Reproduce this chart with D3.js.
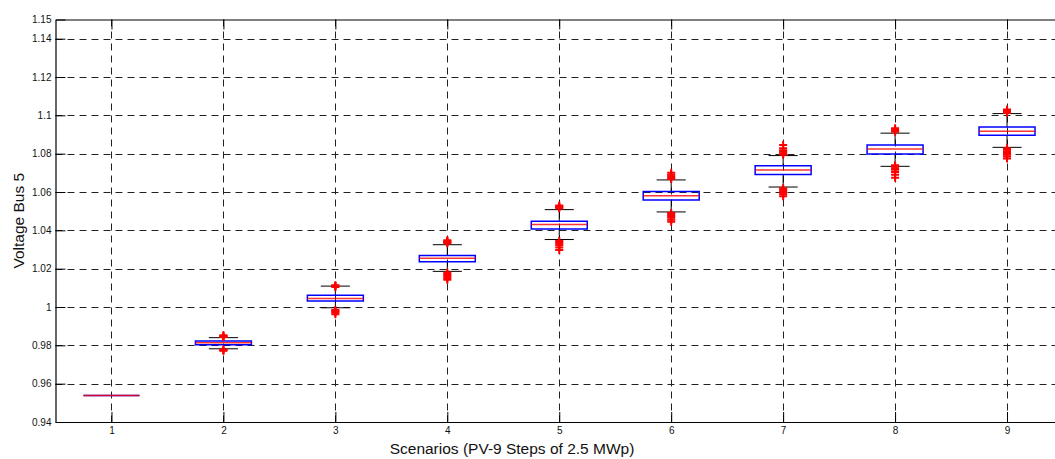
<!DOCTYPE html>
<html>
<head>
<meta charset="utf-8">
<script src="https://cdn.jsdelivr.net/npm/d3@7"></script>
<style>
  html, body { margin: 0; padding: 0; background: #fff; overflow: hidden; }
  svg { display: block; font-family: "Liberation Sans", Arial, sans-serif; }
</style>
</head>
<body>
<svg id="chart" width="1055" height="459"></svg>
<script>
// ---- data ----
const scenarios   = [1, 2, 3, 4, 5, 6, 7, 8, 9];
const q1          = [0.9538, 0.9803, 1.0031, 1.0236, 1.0407, 1.0558, 1.0691, 1.0798, 1.0896];
const medians     = [0.9538, 0.9813, 1.0045, 1.0254, 1.0430, 1.0581, 1.0715, 1.0824, 1.0917];
const q3          = [0.9538, 0.9822, 1.0061, 1.0269, 1.0448, 1.0602, 1.0737, 1.0845, 1.0939];
const whiskerLow  = [0.9538, 0.9782, 0.9996, 1.0186, 1.0352, 1.0496, 1.0626, 1.0734, 1.0833];
const whiskerHigh = [0.9538, 0.9840, 1.0109, 1.0325, 1.0508, 1.0663, 1.0790, 1.0907, 1.1009];
const outliersHigh = [
  [],
  [0.9843, 0.9846, 0.9849, 0.9852],
  [1.0105, 1.0108, 1.0111, 1.0114],
  [1.0332, 1.0336, 1.0340, 1.0344, 1.0348],
  [1.0515, 1.0520, 1.0525, 1.0530],
  [1.0668, 1.0675, 1.0682, 1.0690, 1.0700],
  [1.0795, 1.0802, 1.0810, 1.0818, 1.0828, 1.0845],
  [1.0915, 1.0920, 1.0926, 1.0932],
  [1.1012, 1.1018, 1.1024, 1.1030]
];
const outliersLow = [
  [],
  [0.9778, 0.9775, 0.9772],
  [0.9985, 0.9980, 0.9975, 0.9970, 0.9962],
  [1.0180, 1.0172, 1.0165, 1.0158, 1.0150, 1.0142],
  [1.0345, 1.0338, 1.0330, 1.0322, 1.0310, 1.0298],
  [1.0490, 1.0482, 1.0475, 1.0466, 1.0455, 1.0445],
  [1.0620, 1.0612, 1.0604, 1.0596, 1.0588, 1.0578],
  [1.0740, 1.0732, 1.0724, 1.0716, 1.0705, 1.0690, 1.0675],
  [1.0828, 1.0820, 1.0812, 1.0804, 1.0795, 1.0785, 1.0775]
];
const yTicks = [0.94, 0.96, 0.98, 1.00, 1.02, 1.04, 1.06, 1.08, 1.10, 1.12, 1.14, 1.15];
const yTickLabels = ["0.94", "0.96", "0.98", "1", "1.02", "1.04", "1.06", "1.08", "1.1", "1.12", "1.14", "1.15"];
const xLabel = "Scenarios (PV-9 Steps of 2.5 MWp)";
const yLabel = "Voltage Bus 5";

// ---- layout ----
const svg = d3.select("#chart");
const mLeft = 55.5, mTop = 19.5, mBottom = 422, mRight = 1063;
const x = d3.scaleLinear().domain([0.5, 9.5]).range([mLeft, mRight]);
const y = d3.scaleLinear().domain([0.94, 1.15]).range([mBottom, mTop]);
const boxHalf = 0.25, capHalf = 0.13;

// grid
const grid = svg.append("g");
grid.selectAll("line.gy").data(yTicks.filter(v => v > 0.941 && v < 1.149)).join("line")
  .attr("x1", mLeft).attr("x2", mRight)
  .attr("y1", d => Math.round(y(d)) + 0.5).attr("y2", d => Math.round(y(d)) + 0.5)
  .attr("stroke", "#222").attr("stroke-width", 1).attr("stroke-dasharray", "7,5");
grid.selectAll("line.gx").data(scenarios).join("line")
  .attr("x1", d => Math.round(x(d)) + 0.5).attr("x2", d => Math.round(x(d)) + 0.5)
  .attr("y1", mTop).attr("y2", mBottom)
  .attr("stroke", "#222").attr("stroke-width", 1).attr("stroke-dasharray", "7,5");

// axes
const yAxis = d3.axisLeft(y).tickValues(yTicks).tickFormat((d, i) => yTickLabels[i]).tickSizeInner(-10).tickSizeOuter(0).tickPadding(4);
const gy = svg.append("g").attr("transform", `translate(${mLeft},0)`).call(yAxis);
gy.select(".domain").attr("stroke", "#000").attr("stroke-width", 1.2);
gy.selectAll("text").attr("font-size", 10).attr("fill", "#111").attr("font-family", "Liberation Sans, Arial, sans-serif");

const xAxis = d3.axisBottom(x).tickValues(scenarios).tickFormat(d3.format("d")).tickSizeInner(-10).tickSizeOuter(0).tickPadding(5);
const gx = svg.append("g").attr("transform", `translate(0,${mBottom})`).call(xAxis);
gx.select(".domain").attr("stroke", "#000").attr("stroke-width", 1.2);
gx.selectAll("text").attr("font-size", 10).attr("fill", "#111").attr("font-family", "Liberation Sans, Arial, sans-serif");

const xTop = d3.axisTop(x).tickValues(scenarios).tickFormat("").tickSizeInner(-10).tickSizeOuter(0);
const gt = svg.append("g").attr("transform", `translate(0,${mTop})`).call(xTop);
gt.select(".domain").attr("stroke", "#000").attr("stroke-width", 1.2);

// boxes
const boxes = svg.append("g");
scenarios.forEach((s, i) => {
  const g = boxes.append("g");
  const cx = x(s);
  const bw = x(s + boxHalf) - cx, cw = x(s + capHalf) - cx;
  g.append("line").attr("x1", cx).attr("x2", cx).attr("y1", y(q3[i])).attr("y2", y(whiskerHigh[i])).attr("stroke", "#000");
  g.append("line").attr("x1", cx).attr("x2", cx).attr("y1", y(q1[i])).attr("y2", y(whiskerLow[i])).attr("stroke", "#000");
  if (whiskerHigh[i] !== whiskerLow[i]) {
    g.append("line").attr("x1", cx - cw).attr("x2", cx + cw).attr("y1", y(whiskerHigh[i])).attr("y2", y(whiskerHigh[i])).attr("stroke", "#000");
    g.append("line").attr("x1", cx - cw).attr("x2", cx + cw).attr("y1", y(whiskerLow[i])).attr("y2", y(whiskerLow[i])).attr("stroke", "#000");
  }
  const yt = y(q3[i]), yb = y(q1[i]);
  g.append("path")
    .attr("d", `M${cx - bw},${yt}H${cx + bw}V${yb}H${cx - bw}Z`)
    .attr("fill", "none").attr("stroke", "#0000ff").attr("stroke-width", 1.5);
  g.append("line").attr("x1", cx - bw).attr("x2", cx + bw).attr("y1", y(medians[i])).attr("y2", y(medians[i]))
    .attr("stroke", "#ff0000").attr("stroke-opacity", 0.8).attr("stroke-width", 1.5);
  const pts = outliersHigh[i].concat(outliersLow[i]);
  g.selectAll("path.o").data(pts).join("path")
    .attr("d", d => `M${cx - 4},${y(d)}H${cx + 4}M${cx},${y(d) - 4}V${y(d) + 4}`)
    .attr("stroke", "#ff0000").attr("stroke-width", 2).attr("fill", "none");
});

// labels
svg.append("text").attr("x", 512).attr("y", 453.5).attr("text-anchor", "middle")
  .attr("font-size", 15.5).attr("fill", "#111").text(xLabel);
svg.append("text").attr("transform", `translate(24,${(mTop + mBottom) / 2}) rotate(-90)`)
  .attr("text-anchor", "middle").attr("font-size", 15.5).attr("fill", "#111").text(yLabel);
</script>
</body>
</html>
